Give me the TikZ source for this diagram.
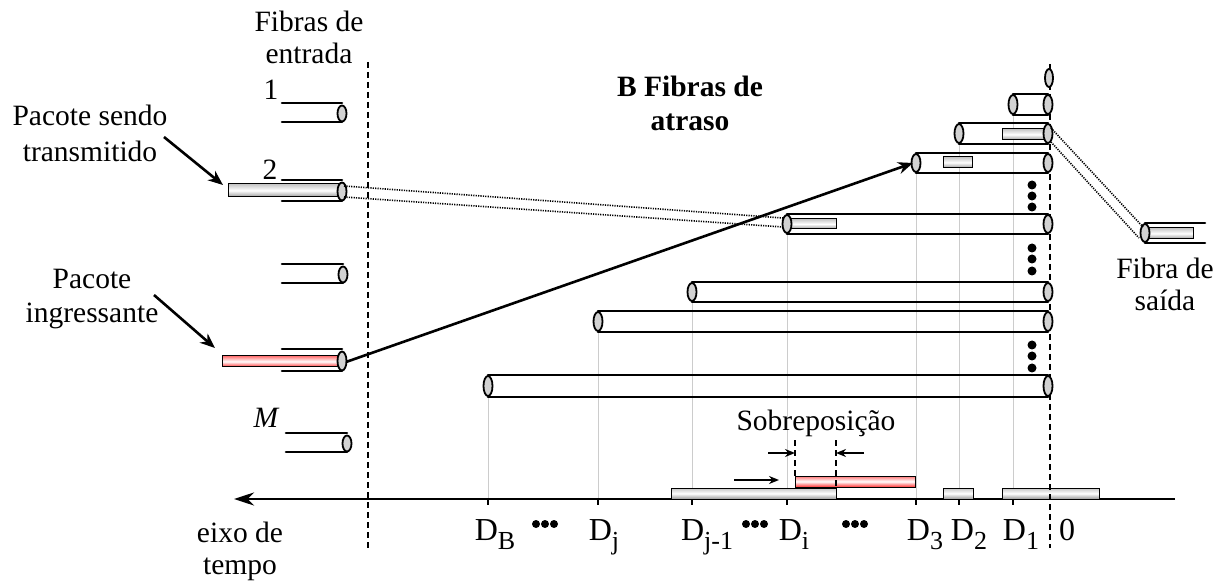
\documentclass[tikz,border=0pt]{standalone}
\usepackage{fontspec}
\setmainfont{Liberation Serif}
\newfontfamily\labfont{Liberation Serif}
\usetikzlibrary{arrows.meta}

% delay-axis label: D with a large, lowered index
\newcommand{\Dlab}[1]{D\raisebox{-9pt}{\fontsize{26}{26}\selectfont #1}}

\tikzset{
  fiberline/.style={line width=2.6pt, line cap=round},
  fiberend/.style={line width=1.8pt, fill=gray!35},
  guide/.style={line width=0.8pt, draw=gray!40},
  tick/.style={line width=1.4pt},
  pkt/.style={line width=1pt, draw=black, top color=gray!45, bottom color=gray!80, middle color=white},
  redpkt/.style={line width=1pt, draw=black, top color=red!55, bottom color=red!80, middle color=white},
  lbl/.style={font=\fontsize{29.5}{32}\selectfont, inner sep=0pt, align=center, anchor=north},
  numlbl/.style={font=\fontsize{29.5}{32}\selectfont, inner sep=0pt, anchor=base},
  dlbl/.style={font=\labfont\fontsize{32}{32}\selectfont, inner sep=0pt, anchor=base},
  vdash/.style={line width=2pt, dash pattern=on 6pt off 4pt},
  dotline/.style={line width=1.6pt, dash pattern=on 1.2pt off 1.2pt},
  ptr/.style={line width=2.6pt, -{Stealth[length=15pt,width=12pt]}},
  smallptr/.style={line width=2pt, -{Stealth[length=10pt,width=8pt]}},
}

\begin{document}
\begin{tikzpicture}[x=1pt,y=-1pt]
\useasboundingbox (0,0) rectangle (1227,585);

% ---------- delay fibres: name / left end / top / bottom ----------
\def\xr{1048}
\foreach \n/\xl/\yt/\yb in {d1/1013/94/115, d2/959/123/144, d3/916/153/173,
                            di/787/214/234, dj1/692/282/302, dj/598/311/332,
                            db/488/375/397}{
  \coordinate (\n-l) at (\xl,{(\yt+\yb)/2});
  \coordinate (\n-b) at (\xl,\yb);
  \coordinate (\n-t) at (\xl,505);
  \draw[guide] (\n-b) -- (\n-t);
}

% ---------- time axis ----------
\coordinate (axR) at (1175,499);
\coordinate (axL) at (234,499);
\draw[line width=2.8pt, -{Stealth[length=20pt,width=13pt]}] (axR) -- (axL);
\foreach \n in {d1,d2,d3,di,dj1,dj,db}{
  \draw[tick] (\n-t |- axR) -- (\n-t);
}

% packets on the time axis
\draw[pkt] (671,488) rectangle (836,499);
\draw[redpkt] (795,476) rectangle (915,487);
\draw[pkt] (943,488) rectangle (973,499);
\draw[pkt] (1002,488) rectangle (1099,499);

% overlap marks
\coordinate (ov1) at (795,440);
\coordinate (ov2) at (836,440);
\draw[vdash, line width=1.8pt] (ov1) -- (795,476);
\draw[vdash, line width=1.8pt] (ov2) -- (836,488);
\coordinate (oa1) at (768,453);
\coordinate (oa2) at (864,453);
\draw[smallptr] (oa1) -- (ov1 |- oa1);
\draw[smallptr] (oa2) -- (ov2 |- oa2);
\coordinate (sl1) at (734,480);
\coordinate (sl2) at (779,480);
\draw[smallptr] (sl1) -- (sl2);
\node[lbl] (overlap) at (816,410) {Sobreposição};

% ---------- vertical reference lines ----------
\coordinate (inTop) at (368,62);
\coordinate (inBot) at (368,548);
\draw[vdash] (inTop) -- (inBot);
\coordinate (outTop) at (1050,64);
\coordinate (outBot) at (1050,548);
\draw[vdash] (outTop) -- (outBot);

% ---------- packets inside delay fibres ----------
\draw[pkt] (1002,129) rectangle (1048,140);
\draw[pkt] (943,157) rectangle (972,168);
\draw[pkt] (790,219) rectangle (836,229);

% ---------- delay fibres ----------
\foreach \xl/\yt/\yb in {1013/94/115, 959/123/144, 916/153/173,
                         787/214/234, 692/282/302, 598/311/332, 488/375/397}{
  \draw[fiberline] (\xl,\yt) -- (\xr,\yt) (\xl,\yb) -- (\xr,\yb);
  \draw[fiberend] (\xl,{(\yt+\yb)/2}) ellipse [x radius=4.5, y radius={(\yb-\yt)/2-1}];
  \draw[fiberend] (\xr,{(\yt+\yb)/2}) ellipse [x radius=4.5, y radius={(\yb-\yt)/2-1}];
}
% zero-length fibre
\draw[fiberend] (1049,78) ellipse [x radius=4, y radius=9];

% vertical dots between fibres
\foreach \y in {185,196,207, 248,259,271, 345,356,368}{
  \fill (1032,\y) circle [radius=4.5];
}

% ---------- input fibres ----------
\draw[pkt] (228,184) rectangle (340,197);
\draw[redpkt] (222,356) rectangle (338,367);
\foreach \xl/\xrr/\yt/\yb in {282/342/103/122, 282/342/180/201, 282/343/264/283,
                             282/342/349/371, 286/347/433/452}{
  \draw[fiberline] (\xl,\yt) -- (\xrr,\yt) (\xl,\yb) -- (\xrr,\yb);
  \draw[fiberend] (\xrr,{(\yt+\yb)/2+1}) ellipse [x radius=4.5, y radius={(\yb-\yt)/2-1.5}];
}
\coordinate (in2a) at (344,186);
\coordinate (in2b) at (344,197);
\coordinate (in4) at (346,362);

\node[numlbl] (n1) at (271,100) {1};
\node[numlbl] (n2) at (270,180) {2};
\node[numlbl] (nM) at (266,428) {\itshape M};

% ---------- output fibre ----------
\draw[pkt] (1148,228) rectangle (1193,239);
\draw[fiberline] (1145,223) -- (1205,223) (1145,243) -- (1205,243);
\draw[fiberend] (1145,233) ellipse [x radius=4.5, y radius=9];
\coordinate (outa) at (1143,227);
\coordinate (outb) at (1139,238);
\coordinate (d2a) at (1051,128);
\coordinate (d2b) at (1051,142);

% ---------- connections ----------
\coordinate (dia) at (783,218);
\coordinate (dib) at (783,227);
\draw[dotline] (in2a) -- (dia);
\draw[dotline] (in2b) -- (dib);
\draw[dotline] (d2a) -- (outa);
\draw[dotline] (d2b) -- (outb);
\draw[ptr] (in4) -- ([xshift=-3pt]d3-l);

% ---------- text labels ----------
\node[lbl] (inlbl) at (309,11) {Fibras de\\entrada};
\node[lbl, font=\fontsize{29.5}{36}\selectfont] (sendo) at (90,105) {Pacote sendo\\transmitido};
\node[lbl, font=\fontsize{29.5}{34}\selectfont] (ingr) at (92,269) {Pacote\\ingressante};
\node[lbl, font=\fontsize{29.5}{34}\selectfont\bfseries] (delay) at (690,76) {B Fibras de\\atraso};
\node[lbl] (outlbl) at (1165,258) {Fibra de\\saída};
\node[lbl] (axlbl) at (240,522) {eixo de\\tempo};

\coordinate (sendoA) at (164,137);
\coordinate (sendoB) at (223,185);
\draw[ptr] (sendoA) -- (sendoB);
\coordinate (ingrA) at (154,295);
\coordinate (ingrB) at (215,348);
\draw[ptr] (ingrA) -- (ingrB);

% ---------- delay labels on the axis ----------
\node[dlbl] (lb) at (495,540) {\Dlab{B}};
\node[dlbl] (lj) at (604,540) {\Dlab{j}};
\node[dlbl] (lj1) at (707,540) {\Dlab{j-1}};
\node[dlbl] (li) at (794,540) {\Dlab{i}};
\node[dlbl] (l3) at (925,540) {\Dlab{3}};
\node[dlbl] (l2) at (969,540) {\Dlab{2}};
\node[dlbl] (l1) at (1021,540) {\Dlab{1}};
\node[dlbl] (l0) at (1067,540) {0};
\foreach \cx in {545,755,855}{
  \foreach \dx in {-9,0,9}{
    \fill (\cx+\dx,524) circle [radius=4];
  }
}
\end{tikzpicture}
\end{document}
